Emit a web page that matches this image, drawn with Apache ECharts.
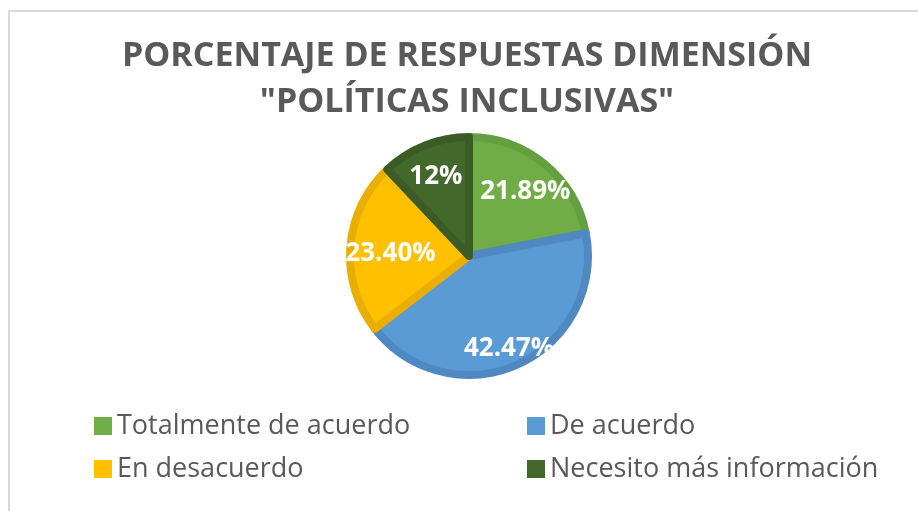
<!DOCTYPE html>
<html><head><meta charset="utf-8">
<script src="https://cdn.jsdelivr.net/npm/echarts@6/dist/echarts.min.js"></script>
<style>html,body{margin:0;padding:0;background:#fff}#c{width:918px;height:511px}</style>
</head><body><div id="c"></div>
<script>
const titleText = 'PORCENTAJE DE RESPUESTAS DIMENSIÓN\n"POLÍTICAS INCLUSIVAS"';
const categories = ['Totalmente de acuerdo', 'De acuerdo', 'En desacuerdo', 'Necesito más información'];
const values = [21.89, 42.47, 23.40, 12];
const valueLabels = ['21.89%', '42.47%', '23.40%', '12%'];

const fillColors = ['#70AD47', '#5B9BD5', '#FFC000', '#43682B'];
const bandColors = ['#64A03F', '#5089C2', '#E9AF00', '#3B5C26'];
const labelRadiusFrac = [0.72, 0.79, 0.64, 0.73];
const labelDy = 4;
const cx = 469, cy = 256, R = 123;

const total = values.reduce((a, b) => a + b, 0);
const mids = [];
let acc = 0;
values.forEach(v => { mids.push((acc + v / 2) / total * 2 * Math.PI); acc += v; });

const chart = echarts.init(document.getElementById('c'), null, {renderer: 'canvas'});
const FONT = '"Open Sans", "Noto Sans", sans-serif';
const legendBase = {orient: 'vertical', top: 407, itemWidth: 18, itemHeight: 18, itemGap: 15, icon: 'rect',
  itemStyle: {borderWidth: 0}, selectedMode: false,
  textStyle: {fontFamily: FONT, fontSize: 27, color: '#595959', padding: [0, 0, 0, 0], lineHeight: 28}};
chart.setOption({
  animation: false,
  graphic: [{type: 'rect', shape: {x: 9, y: 11, width: 1000, height: 1000}, style: {fill: 'none', stroke: '#D9D9D9', lineWidth: 2}, silent: true}],
  title: {
    text: titleText, left: 462, top: 28, textAlign: 'center',
    textStyle: {fontFamily: FONT, fontWeight: 'bold', fontSize: 34, color: '#595959', lineHeight: 46}
  },
  legend: [
    Object.assign({data: [categories[0], categories[2]], left: 89}, legendBase),
    Object.assign({data: [categories[1], categories[3]], left: 522}, legendBase)
  ],
  series: [{
    type: 'pie', center: [cx, cy], radius: R - 4, startAngle: 90, clockwise: true,
    data: categories.map((n, i) => ({name: n, value: values[i],
      itemStyle: {color: fillColors[i], borderColor: bandColors[i], borderWidth: 8},
      label: {formatter: valueLabels[i]}})),
    label: {show: true, position: 'inside', color: '#fff', fontFamily: FONT, fontWeight: 'bold', fontSize: 26},
    labelLine: {show: false},
    emphasis: {disabled: true},
    labelLayout: function (p) {
      const i = p.dataIndex, r = R * labelRadiusFrac[i], a = mids[i];
      return {x: cx + r * Math.sin(a), y: cy - r * Math.cos(a) + labelDy, align: 'center', verticalAlign: 'middle'};
    }
  }]
});
</script></body></html>
